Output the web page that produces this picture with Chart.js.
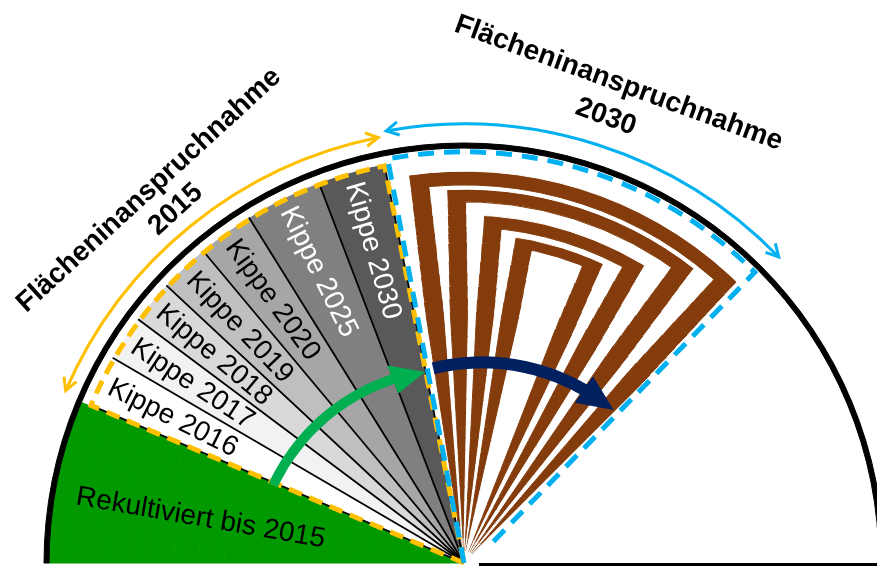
<!DOCTYPE html>
<html>
<head>
<meta charset="utf-8">
<script src="https://cdn.jsdelivr.net/npm/chart.js@4/dist/chart.umd.min.js"></script>
<style>
  html, body { margin: 0; padding: 0; background: #fff; }
</style>
</head>
<body>
<canvas id="myChart" width="877" height="567"></canvas>
<script>
/* Sektoren: Grad ab links, im Uhrzeigersinn */
var sectorLabels = ["Rekultiviert bis 2015", "Kippe 2016", "Kippe 2017", "Kippe 2018", "Kippe 2019", "Kippe 2020", "Kippe 2025", "Kippe 2030"];
var sectorDegrees = [22.9, 7.4, 6.5, 6.2, 7.1, 8.0, 11.0, 9.6];
var sectorColors = ["#009900", "#ffffff", "#f2f2f2", "#d9d9d9", "#bfbfbf", "#a6a6a6", "#808080", "#595959"];
var labelColors = ["#000000", "#000000", "#000000", "#000000", "#000000", "#000000", "#ffffff", "#ffffff"];

/* Flächeninanspruchnahme 2030 (Grad) */
var claimRange = [79.3, 135.0];
/* braune Bögen: Schenkel links / rechts in Grad (oben), Radius als Anteil */
var claimLeft = [[82.0, 84.8], [87.5, 90.4], [93.4, 96.5], [99.1, 102.3]];
var claimRight = [[131.4, 134.2], [125.1, 128.0], [118.2, 121.3], [111.8, 115.0]];
var claimOuter = [0.933, 0.890, 0.829, 0.786];
var claimInner = [0.900, 0.860, 0.800, 0.762];

var titleLines2015 = ["Flächeninanspruchnahme", "2015"];
var titleLines2030 = ["Flächeninanspruchnahme", "2030"];

var rimInner = 0.988;   // schwarzer Rand
var kippeOuter = 0.969;
var brown = "#843c0c";

// Ringe aufbauen (aussen -> innen), innen feiner fuer die spitz zulaufenden Schenkel
var edges = [1, rimInner, kippeOuter].concat(claimOuter, claimInner, [0]);
for (var e = 0.03; e < 0.75; e += 0.03) edges.push(+e.toFixed(3));
edges = edges.filter(function (v, i, a) { return a.indexOf(v) === i; }).sort(function (a, b) { return b - a; });

function legSpan(range, rTop, m) {
  var center = (range[0] + range[1]) / 2;
  var w = (range[1] - range[0]) * rTop;
  var f = Math.min(1, Math.max(0, (m - 0.025) / (0.6 - 0.025)));
  var half = w * f / m / 2;
  return [center - half, center + half];
}

function segmentsAt(m) {
  if (m > rimInner) return [{ a: 0, b: 180, c: "#000000", k: "Rand" }];
  var segs = [];
  var acc = 0;
  for (var i = 0; i < sectorDegrees.length; i++) {
    var top = i === 0 ? rimInner : kippeOuter;
    if (m < top) segs.push({ a: acc, b: acc + sectorDegrees[i], c: sectorColors[i], k: sectorLabels[i] });
    acc += sectorDegrees[i];
  }
  for (var j = 0; j < claimOuter.length; j++) {
    if (m < claimOuter[j] && m > claimInner[j]) {
      segs.push({ a: claimLeft[j][0], b: claimRight[j][1], c: brown, k: "claim" });
    } else if (m < claimInner[j]) {
      var l = legSpan(claimLeft[j], claimInner[j], m);
      var r = legSpan(claimRight[j], claimInner[j], m);
      if (l[1] - l[0] > 0.01) {
        segs.push({ a: l[0], b: l[1], c: brown, k: "claim" });
        segs.push({ a: r[0], b: r[1], c: brown, k: "claim" });
      }
    }
  }
  segs.sort(function (p, q) { return p.a - q.a; });
  var out = [];
  var pos = 0;
  segs.forEach(function (s) {
    if (s.a > pos + 1e-6) out.push({ a: pos, b: s.a, c: "#ffffff", k: "leer" });
    out.push(s);
    pos = s.b;
  });
  if (pos < 180 - 1e-6) out.push({ a: pos, b: 180, c: "#ffffff", k: "leer" });
  return out;
}

var datasets = [];
for (var i = 0; i < edges.length - 1; i++) {
  var segs = segmentsAt((edges[i] + edges[i + 1]) / 2);
  datasets.push({
    data: segs.map(function (s) { return +(s.b - s.a).toFixed(3); }),
    backgroundColor: segs.map(function (s) { return s.c; }),
    borderColor: segs.map(function (s) { return s.c; }),
    borderWidth: 1,
    weight: edges[i] - edges[i + 1],
    keys: segs.map(function (s) { return s.k; })
  });
}

var FONT = '"Liberation Sans", Arial, sans-serif';

var overlay = {
  id: "overlay",
  afterDatasetsDraw: function (chart) {
    var c = chart.ctx;
    var rim = chart.getDatasetMeta(0).data[0];
    var cx = rim.x, cy = rim.y, R = rim.outerRadius;
    function ang(t) { return -Math.PI + t * Math.PI / 180; }
    function pt(r, t) { var a = ang(t); return [cx + r * Math.cos(a), cy + r * Math.sin(a)]; }

    // Sektorbögen aus dem Ring unter dem Kippenrand holen
    var ringIdx = edges.indexOf(kippeOuter);
    var meta = chart.getDatasetMeta(ringIdx);
    var keys = chart.data.datasets[ringIdx].keys;
    var arcs = sectorLabels.map(function (lab) { return meta.data[keys.indexOf(lab)]; });
    var rK = kippeOuter * R;

    c.save();
    // Trennlinien
    c.strokeStyle = "#000";
    c.lineWidth = 1.8;
    arcs.forEach(function (a) {
      c.beginPath();
      c.moveTo(cx, cy);
      c.lineTo(cx + rK * Math.cos(a.endAngle), cy + rK * Math.sin(a.endAngle));
      c.stroke();
    });

    // Grundlinie rechts
    c.lineWidth = 3;
    c.beginPath();
    c.moveTo(cx + 15, cy + 1.5);
    c.lineTo(cx + R, cy + 1.5);
    c.stroke();

    // Beschriftung Sektoren
    c.font = "28px " + FONT;
    arcs.forEach(function (a, i) {
      var mid, r, align;
      if (i === 0) {
        mid = a.startAngle + 0.43 * (a.endAngle - a.startAngle);
        r = 0.636 * R; align = "center";
      } else {
        mid = (a.startAngle + a.endAngle) / 2;
        r = 0.943 * R; align = "left";
      }
      c.save();
      c.translate(cx + r * Math.cos(mid), cy + r * Math.sin(mid));
      c.rotate(mid + Math.PI);
      c.fillStyle = labelColors[i];
      c.textAlign = align;
      c.textBaseline = "middle";
      c.fillText(sectorLabels[i], 0, 1);
      c.restore();
    });

    // gestrichelte Umrandung 2015 (orange)
    var t0 = (arcs[1].startAngle + Math.PI) * 180 / Math.PI;
    var t1 = (arcs[7].endAngle + Math.PI) * 180 / Math.PI;
    c.setLineDash([14, 8]);
    c.lineWidth = 5;
    c.strokeStyle = "#ffc000";
    c.beginPath();
    c.moveTo(cx, cy);
    var p = pt(rK - 2, t0);
    c.lineTo(p[0], p[1]);
    c.arc(cx, cy, rK - 2, ang(t0), ang(t1));
    c.lineTo(cx, cy);
    c.stroke();

    // gestrichelte Umrandung 2030 (blau)
    c.setLineDash([16, 10]);
    c.strokeStyle = "#00b0f0";
    c.beginPath();
    c.moveTo(cx, cy);
    p = pt(0.979 * R, claimRange[0]);
    c.lineTo(p[0], p[1]);
    c.arc(cx, cy, 0.979 * R, ang(claimRange[0]), ang(claimRange[1]));
    c.lineTo(cx + 24, cy - 16);
    c.stroke();
    c.setLineDash([]);

    // dicke gebogene Pfeile
    function spiralArrow(ta, ra, tb, rb, width, headLen, headHalf, color) {
      var rm = (ra + rb) / 2;
      var hd = headLen / rm * 180 / Math.PI;
      var tBase = tb - hd;
      var rBase = ra + (rb - ra) * (tBase - ta) / (tb - ta);
      c.beginPath();
      for (var k = 0; k <= 40; k++) {
        var tt = ta + (tBase + 0.5 - ta) * k / 40;
        var rr = ra + (rBase - ra) * k / 40;
        var q = pt(rr, tt);
        if (k === 0) c.moveTo(q[0], q[1]); else c.lineTo(q[0], q[1]);
      }
      c.strokeStyle = color;
      c.lineWidth = width;
      c.lineCap = "butt";
      c.stroke();
      var tip = pt(rb, tb), w1 = pt(rBase + headHalf, tBase), w2 = pt(rBase - headHalf, tBase);
      c.beginPath();
      c.moveTo(tip[0], tip[1]);
      c.lineTo(w1[0], w1[1]);
      c.lineTo(w2[0], w2[1]);
      c.closePath();
      c.fillStyle = color;
      c.fill();
    }
    spiralArrow(22.2, 206, 78.5, 195, 10, 34, 15, "#00b050");
    spiralArrow(81.0, 197, 134.4, 214, 12, 35, 16, "#002060");

    // aeussere Bogenpfeile
    function arcArrow(r, ta, tb, color) {
      c.strokeStyle = color;
      c.lineWidth = 3;
      c.lineCap = "butt";
      c.lineJoin = "miter";
      c.beginPath();
      c.arc(cx, cy, r, ang(ta), ang(tb));
      c.stroke();
      [[tb, 1], [ta, -1]].forEach(function (h) {
        var a = ang(h[0]);
        var q = pt(r, h[0]);
        var d = a + h[1] * Math.PI / 2 + h[1] * 0.03;
        c.beginPath();
        c.moveTo(q[0] + 14 * Math.cos(d + Math.PI - 0.5), q[1] + 14 * Math.sin(d + Math.PI - 0.5));
        c.lineTo(q[0], q[1]);
        c.lineTo(q[0] + 14 * Math.cos(d + Math.PI + 0.5), q[1] + 14 * Math.sin(d + Math.PI + 0.5));
        c.stroke();
      });
    }
    arcArrow(434, 23.4, 78.6, "#ffc000");
    arcArrow(439, 79.8, 135.8, "#00b0f0");

    // Titel
    function title(lines, ta, ra, tb, rb, rot) {
      c.font = "bold 28px " + FONT;
      c.fillStyle = "#000";
      c.textAlign = "center";
      c.textBaseline = "middle";
      [[lines[0], ta, ra], [lines[1], tb, rb]].forEach(function (l) {
        var q = pt(l[2], l[1]);
        c.save();
        c.translate(q[0], q[1]);
        c.rotate(rot * Math.PI / 180);
        c.fillText(l[0], 0, 0);
        c.restore();
      });
    }
    title(titleLines2015, 49.8, 488, 50.8, 456, -42.5);
    title(titleLines2030, 107.85, 504, 107.65, 468, 20.1);

    c.restore();
  }
};

new Chart("myChart", {
  type: "pie",
  data: {
    labels: [],
    datasets: datasets
  },
  options: {
    responsive: false,
    animation: false,
    events: [],
    rotation: -90,
    circumference: 180,
    radius: 420,
    layout: { padding: { left: 51, top: 139, right: 0, bottom: 0 } },
    plugins: {
      legend: { display: false },
      tooltip: { enabled: false }
    }
  },
  plugins: [overlay]
});
</script>
</body>
</html>
